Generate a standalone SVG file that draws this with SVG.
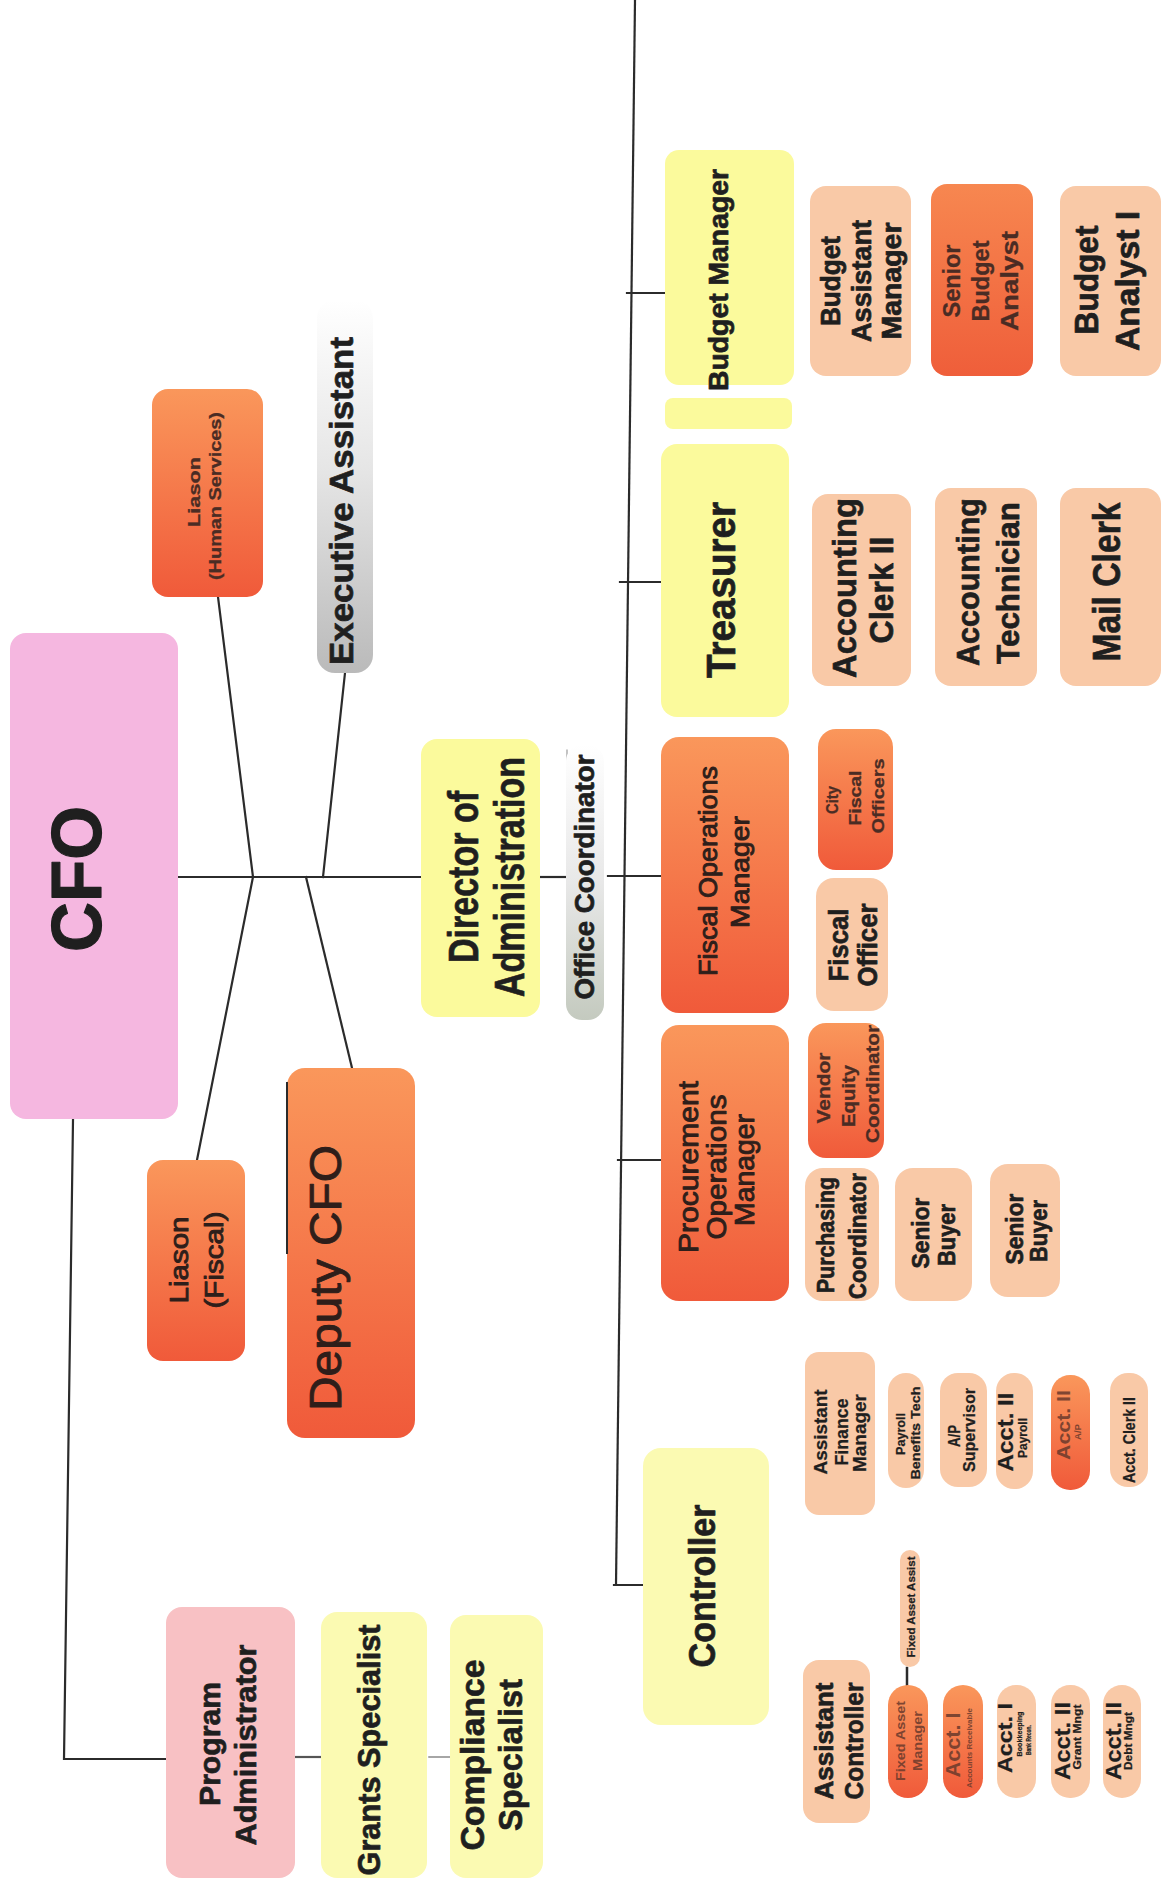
<svg xmlns="http://www.w3.org/2000/svg" width="1164" height="1880" viewBox="0 0 1164 1880">
<defs>
<linearGradient id="gOr" x1="0" y1="0" x2="0" y2="1"><stop offset="0" stop-color="#fa975b"/><stop offset="1" stop-color="#f05a3a"/></linearGradient>
<linearGradient id="gOr2" x1="0" y1="0" x2="0" y2="1"><stop offset="0" stop-color="#f78750"/><stop offset="1" stop-color="#ef5e3a"/></linearGradient>
<linearGradient id="gGray" x1="0" y1="0" x2="0" y2="1"><stop offset="0" stop-color="#ffffff"/><stop offset="0.45" stop-color="#e6e6e6"/><stop offset="1" stop-color="#bababa"/></linearGradient>
<linearGradient id="gGray2" x1="0" y1="0" x2="0" y2="1"><stop offset="0" stop-color="#ffffff"/><stop offset="0.5" stop-color="#e8e8e8"/><stop offset="1" stop-color="#c4cabf"/></linearGradient>
</defs>
<style>
text{font-family:"Liberation Sans",Arial,Helvetica,sans-serif;text-anchor:middle;fill:#1f1f1f;font-weight:bold;stroke:#1f1f1f;stroke-width:.7;stroke-linejoin:round}
.sm{stroke-width:.25}
.md{font-weight:normal;stroke:#2e1e1a;stroke-width:.9;fill:#2e1e1a}
.fd{fill:#4a2c24;stroke:#4a2c24;stroke-width:.3}
.fx{fill:#6a3a2c;stroke:none;opacity:.85}
.yel{fill:#fbfa9c}
.yl2{fill:#fbfab2}
.pch{fill:#f9c9a7}
.org{fill:url(#gOr)}
.conn line,.conn polyline{stroke:#2b2b2b;stroke-width:2.2;fill:none;stroke-linecap:square}
</style>
<rect width="1164" height="1880" fill="#ffffff"/>

<g class="conn" id="connectors">
<line x1="635" y1="0" x2="616" y2="1585"/>
<line x1="627" y1="293" x2="665" y2="293"/>
<line x1="620" y1="582" x2="661" y2="582"/>
<line x1="608" y1="876" x2="661" y2="876"/>
<line x1="618" y1="1160" x2="661" y2="1160"/>
<line x1="614" y1="1585" x2="643" y2="1585"/>
<line x1="176" y1="877" x2="421" y2="877"/>
<polyline points="218,597 253,877 197,1160"/>
<line x1="345" y1="673" x2="323" y2="877"/>
<line x1="306" y1="877" x2="352" y2="1068"/>
<line x1="540" y1="877" x2="566" y2="877"/>
<line x1="567" y1="750" x2="567" y2="820" style="stroke:#9a9a9a;stroke-width:1.2"/>
<polyline points="73,1120 64,1759 168,1759"/>
<line x1="295" y1="1757" x2="322" y2="1757" style="stroke:#555"/>
<line x1="429" y1="1757" x2="451" y2="1757" style="stroke:#888;stroke-width:1.5"/>
<line x1="907" y1="1668" x2="907" y2="1686" style="stroke-width:2.5"/>
</g>

<g id="n-cfo"><rect x="10" y="633" width="168" height="486" rx="16" fill="#f5b7e0"/>
<text transform="translate(101,879) rotate(-90)" font-size="70" textLength="146" lengthAdjust="spacingAndGlyphs" style="stroke-width:1.2">CFO</text></g>

<g id="n-liason-hs"><rect x="152" y="389" width="111" height="208" rx="16" class="org"/>
<text class="fd" transform="translate(200,492) rotate(-90)" font-size="17" textLength="70" lengthAdjust="spacingAndGlyphs">Liason</text>
<text class="fd" transform="translate(221,496) rotate(-90)" font-size="17" textLength="168" lengthAdjust="spacingAndGlyphs">(Human Services)</text></g>

<g id="n-exec"><rect x="317" y="300" width="56" height="373" rx="18" fill="url(#gGray)"/>
<text transform="translate(353,501) rotate(-90)" font-size="33" textLength="328" lengthAdjust="spacingAndGlyphs">Executive Assistant</text></g>

<g id="n-director"><rect x="421" y="739" width="119" height="278" rx="16" class="yel"/>
<text transform="translate(478,877) rotate(-90)" font-size="42" textLength="172" lengthAdjust="spacingAndGlyphs">Director of</text>
<text transform="translate(524,877) rotate(-90)" font-size="42" textLength="240" lengthAdjust="spacingAndGlyphs">Administration</text></g>

<g id="n-office"><rect x="566" y="745" width="38" height="275" rx="16" fill="url(#gGray2)"/>
<text transform="translate(594,877) rotate(-90)" font-size="28" textLength="245" lengthAdjust="spacingAndGlyphs">Office Coordinator</text></g>

<g id="n-budget-mgr"><rect x="665" y="150" width="129" height="235" rx="14" class="yel"/>
<rect x="665" y="398" width="127" height="31" rx="8" class="yel"/>
<text transform="translate(728,280) rotate(-90)" font-size="28" textLength="222" lengthAdjust="spacingAndGlyphs">Budget Manager</text></g>

<g id="n-treasurer"><rect x="661" y="444" width="128" height="273" rx="16" class="yel"/>
<text transform="translate(735,590) rotate(-90)" font-size="40" textLength="176" lengthAdjust="spacingAndGlyphs">Treasurer</text></g>

<g id="n-budget-asst"><rect x="810" y="186" width="101" height="190" rx="16" class="pch"/>
<text transform="translate(840,281) rotate(-90)" font-size="27" textLength="90" lengthAdjust="spacingAndGlyphs">Budget</text>
<text transform="translate(871,281) rotate(-90)" font-size="27" textLength="122" lengthAdjust="spacingAndGlyphs">Assistant</text>
<text transform="translate(901,281) rotate(-90)" font-size="27" textLength="117" lengthAdjust="spacingAndGlyphs">Manager</text></g>

<g id="n-senior-budget"><rect x="931" y="184" width="102" height="192" rx="16" fill="url(#gOr2)"/>
<text class="fd" transform="translate(960,281) rotate(-90)" font-size="24" textLength="73" lengthAdjust="spacingAndGlyphs">Senior</text>
<text class="fd" transform="translate(989,281) rotate(-90)" font-size="24" textLength="81" lengthAdjust="spacingAndGlyphs">Budget</text>
<text class="fd" transform="translate(1018,281) rotate(-90)" font-size="24" textLength="100" lengthAdjust="spacingAndGlyphs">Analyst</text></g>

<g id="n-budget-analyst"><rect x="1060" y="186" width="101" height="190" rx="16" class="pch"/>
<text transform="translate(1098,280) rotate(-90)" font-size="33" textLength="109" lengthAdjust="spacingAndGlyphs">Budget</text>
<text transform="translate(1139,281) rotate(-90)" font-size="33" textLength="140" lengthAdjust="spacingAndGlyphs">Analyst I</text></g>

<g id="n-acct-clerk"><rect x="812" y="494" width="99" height="192" rx="16" class="pch"/>
<text transform="translate(856,588) rotate(-90)" font-size="33" textLength="180" lengthAdjust="spacingAndGlyphs">Accounting</text>
<text transform="translate(893,590) rotate(-90)" font-size="33" textLength="107" lengthAdjust="spacingAndGlyphs">Clerk II</text></g>

<g id="n-acct-tech"><rect x="935" y="488" width="102" height="198" rx="16" class="pch"/>
<text transform="translate(979,582) rotate(-90)" font-size="31" textLength="168" lengthAdjust="spacingAndGlyphs">Accounting</text>
<text transform="translate(1019,583) rotate(-90)" font-size="31" textLength="162" lengthAdjust="spacingAndGlyphs">Technician</text></g>

<g id="n-mail"><rect x="1060" y="488" width="101" height="198" rx="16" class="pch"/>
<text transform="translate(1120,582) rotate(-90)" font-size="38" textLength="159" lengthAdjust="spacingAndGlyphs">Mail Clerk</text></g>

<g id="n-fiscal-ops"><rect x="661" y="737" width="128" height="276" rx="18" class="org"/>
<text class="md" transform="translate(717,871) rotate(-90)" font-size="26" textLength="210" lengthAdjust="spacingAndGlyphs">Fiscal Operations</text>
<text class="md" transform="translate(749,872) rotate(-90)" font-size="26" textLength="112" lengthAdjust="spacingAndGlyphs">Manager</text></g>

<g id="n-city-fiscal"><rect x="818" y="729" width="75" height="141" rx="18" class="org"/>
<text class="fd" transform="translate(838,800) rotate(-90)" font-size="16" textLength="28" lengthAdjust="spacingAndGlyphs">City</text>
<text class="fd" transform="translate(861,798) rotate(-90)" font-size="16" textLength="55" lengthAdjust="spacingAndGlyphs">Fiscal</text>
<text class="fd" transform="translate(884,796) rotate(-90)" font-size="16" textLength="75" lengthAdjust="spacingAndGlyphs">Officers</text></g>

<g id="n-fiscal-officer"><rect x="816" y="878" width="72" height="133" rx="18" class="pch"/>
<text transform="translate(848,945) rotate(-90)" font-size="27" textLength="73" lengthAdjust="spacingAndGlyphs">Fiscal</text>
<text transform="translate(877,945) rotate(-90)" font-size="27" textLength="83" lengthAdjust="spacingAndGlyphs">Officer</text></g>

<g id="n-procurement"><rect x="661" y="1025" width="128" height="276" rx="18" class="org"/>
<text class="md" transform="translate(698,1167) rotate(-90)" font-size="28" textLength="172" lengthAdjust="spacingAndGlyphs">Procurement</text>
<text class="md" transform="translate(726,1167) rotate(-90)" font-size="28" textLength="145" lengthAdjust="spacingAndGlyphs">Operations</text>
<text class="md" transform="translate(754,1170) rotate(-90)" font-size="28" textLength="112" lengthAdjust="spacingAndGlyphs">Manager</text></g>

<g id="n-vendor"><rect x="808" y="1023" width="76" height="135" rx="18" class="org"/>
<text class="fd" transform="translate(830,1088) rotate(-90)" font-size="18" textLength="71" lengthAdjust="spacingAndGlyphs">Vendor</text>
<text class="fd" transform="translate(855,1096) rotate(-90)" font-size="18" textLength="62" lengthAdjust="spacingAndGlyphs">Equity</text>
<text class="fd" transform="translate(879,1084) rotate(-90)" font-size="18" textLength="118" lengthAdjust="spacingAndGlyphs">Coordinator</text></g>

<g id="n-purchasing"><rect x="805" y="1168" width="74" height="133" rx="18" class="pch"/>
<text transform="translate(834,1235) rotate(-90)" font-size="23" textLength="116" lengthAdjust="spacingAndGlyphs">Purchasing</text>
<text transform="translate(866,1236) rotate(-90)" font-size="23" textLength="126" lengthAdjust="spacingAndGlyphs">Coordinator</text></g>

<g id="n-senior-buyer-1"><rect x="895" y="1168" width="77" height="133" rx="18" class="pch"/>
<text transform="translate(929,1233) rotate(-90)" font-size="24" textLength="71" lengthAdjust="spacingAndGlyphs">Senior</text>
<text transform="translate(955,1235) rotate(-90)" font-size="24" textLength="62" lengthAdjust="spacingAndGlyphs">Buyer</text></g>

<g id="n-senior-buyer-2"><rect x="990" y="1164" width="70" height="133" rx="18" class="pch"/>
<text transform="translate(1023,1229) rotate(-90)" font-size="24" textLength="71" lengthAdjust="spacingAndGlyphs">Senior</text>
<text transform="translate(1047,1231) rotate(-90)" font-size="24" textLength="62" lengthAdjust="spacingAndGlyphs">Buyer</text></g>

<g id="n-controller"><rect x="643" y="1448" width="126" height="277" rx="18" class="yl2"/>
<text transform="translate(715,1586) rotate(-90)" font-size="37" textLength="163" lengthAdjust="spacingAndGlyphs">Controller</text></g>

<g id="n-asst-finance"><rect x="805" y="1352" width="70" height="163" rx="14" class="pch"/>
<text class="sm" transform="translate(827,1432) rotate(-90)" font-size="19" textLength="85" lengthAdjust="spacingAndGlyphs">Assistant</text>
<text class="sm" transform="translate(848,1432) rotate(-90)" font-size="19" textLength="67" lengthAdjust="spacingAndGlyphs">Finance</text>
<text class="sm" transform="translate(866,1433) rotate(-90)" font-size="19" textLength="78" lengthAdjust="spacingAndGlyphs">Manager</text></g>

<g id="n-payroll-tech"><rect x="888" y="1373" width="36" height="115" rx="18" class="pch"/>
<text class="sm" transform="translate(905,1434) rotate(-90)" font-size="13" textLength="42" lengthAdjust="spacingAndGlyphs">Payroll</text>
<text class="sm" transform="translate(920,1433) rotate(-90)" font-size="13" textLength="93" lengthAdjust="spacingAndGlyphs">Benefits Tech</text></g>

<g id="n-ap-supervisor"><rect x="940" y="1373" width="47" height="114" rx="18" class="pch"/>
<text class="sm" transform="translate(960,1436) rotate(-90)" font-size="16" textLength="22" lengthAdjust="spacingAndGlyphs">A/P</text>
<text class="sm" transform="translate(975,1430) rotate(-90)" font-size="16" textLength="84" lengthAdjust="spacingAndGlyphs">Supervisor</text></g>

<g id="n-acct2-payroll"><rect x="996" y="1373" width="37" height="116" rx="18" class="pch"/>
<text class="sm" transform="translate(1013,1432) rotate(-90)" font-size="22" textLength="79" lengthAdjust="spacingAndGlyphs">Acct. II</text>
<text class="sm" transform="translate(1027,1438) rotate(-90)" font-size="13" textLength="40" lengthAdjust="spacingAndGlyphs">Payroll</text></g>

<g id="n-acct2-ap"><rect x="1051" y="1375" width="39" height="115" rx="19" class="org"/>
<text class="fx" transform="translate(1070,1425) rotate(-90)" font-size="19" textLength="70" lengthAdjust="spacingAndGlyphs">Acct. II</text>
<text class="fx" transform="translate(1081,1432) rotate(-90)" font-size="9" textLength="16" lengthAdjust="spacingAndGlyphs">A/P</text></g>

<g id="n-acct-clerk2"><rect x="1110" y="1373" width="38" height="114" rx="18" class="pch"/>
<text class="sm" transform="translate(1135,1440) rotate(-90)" font-size="16" textLength="86" lengthAdjust="spacingAndGlyphs">Acct. Clerk II</text></g>

<g id="n-fixed-assist"><rect x="900" y="1550" width="20" height="117" rx="10" class="pch"/>
<text class="sm" transform="translate(915,1607) rotate(-90)" font-size="11" textLength="101" lengthAdjust="spacingAndGlyphs">Fixed Asset Assist</text></g>

<g id="n-asst-controller"><rect x="803" y="1660" width="67" height="163" rx="16" class="pch"/>
<text transform="translate(833,1741) rotate(-90)" font-size="26" textLength="117" lengthAdjust="spacingAndGlyphs">Assistant</text>
<text transform="translate(863,1741) rotate(-90)" font-size="26" textLength="117" lengthAdjust="spacingAndGlyphs">Controller</text></g>

<g id="n-fixed-mgr"><rect x="888" y="1685" width="40" height="113" rx="20" class="org"/>
<text class="fx" transform="translate(905,1741) rotate(-90)" font-size="12" textLength="80" lengthAdjust="spacingAndGlyphs">Fixed Asset</text>
<text class="fx" transform="translate(922,1741) rotate(-90)" font-size="12" textLength="60" lengthAdjust="spacingAndGlyphs">Manager</text></g>

<g id="n-acct1-a"><rect x="943" y="1685" width="40" height="113" rx="20" class="org"/>
<text class="fx" transform="translate(960,1745) rotate(-90)" font-size="20" textLength="65" lengthAdjust="spacingAndGlyphs">Acct. I</text>
<text class="fx" transform="translate(972,1748) rotate(-90)" font-size="7" textLength="80" lengthAdjust="spacingAndGlyphs">Accounts Receivable</text></g>

<g id="n-acct1-b"><rect x="997" y="1685" width="39" height="113" rx="19" class="pch"/>
<text class="sm" transform="translate(1012,1738) rotate(-90)" font-size="21" textLength="70" lengthAdjust="spacingAndGlyphs">Acct. I</text>
<text class="sm" transform="translate(1022,1734) rotate(-90)" font-size="8" textLength="45" lengthAdjust="spacingAndGlyphs">Bookkeeping</text>
<text class="sm" transform="translate(1031,1740) rotate(-90)" font-size="7" textLength="30" lengthAdjust="spacingAndGlyphs">Bank Recon.</text></g>

<g id="n-acct2-grant"><rect x="1051" y="1685" width="39" height="113" rx="19" class="pch"/>
<text class="sm" transform="translate(1070,1741) rotate(-90)" font-size="22" textLength="78" lengthAdjust="spacingAndGlyphs">Acct. II</text>
<text class="sm" transform="translate(1081,1737) rotate(-90)" font-size="11" textLength="65" lengthAdjust="spacingAndGlyphs">Grant Mngt</text></g>

<g id="n-acct2-debt"><rect x="1103" y="1685" width="38" height="113" rx="19" class="pch"/>
<text class="sm" transform="translate(1121,1741) rotate(-90)" font-size="22" textLength="78" lengthAdjust="spacingAndGlyphs">Acct. II</text>
<text class="sm" transform="translate(1132,1741) rotate(-90)" font-size="10" textLength="58" lengthAdjust="spacingAndGlyphs">Debt Mngt</text></g>

<g id="n-liason-fiscal"><rect x="147" y="1160" width="98" height="201" rx="16" class="org"/>
<text class="md" transform="translate(188,1260) rotate(-90)" font-size="26" textLength="87" lengthAdjust="spacingAndGlyphs">Liason</text>
<text class="md" transform="translate(223,1260) rotate(-90)" font-size="26" textLength="97" lengthAdjust="spacingAndGlyphs">(Fiscal)</text></g>

<g id="n-deputy"><rect x="287" y="1068" width="128" height="370" rx="18" class="org"/>
<line x1="287" y1="1082" x2="287" y2="1254" stroke="#2b2b2b" stroke-width="2"/>
<text class="md" transform="translate(341,1278) rotate(-90)" font-size="44" textLength="266" lengthAdjust="spacingAndGlyphs">Deputy CFO</text></g>

<g id="n-program"><rect x="166" y="1607" width="129" height="271" rx="16" fill="#f8c1c4"/>
<text transform="translate(220,1744) rotate(-90)" font-size="30" textLength="124" lengthAdjust="spacingAndGlyphs">Program</text>
<text transform="translate(256,1745) rotate(-90)" font-size="30" textLength="201" lengthAdjust="spacingAndGlyphs">Administrator</text></g>

<g id="n-grants"><rect x="321" y="1612" width="106" height="266" rx="16" class="yl2"/>
<text transform="translate(380,1750) rotate(-90)" font-size="31" textLength="251" lengthAdjust="spacingAndGlyphs">Grants Specialist</text></g>

<g id="n-compliance"><rect x="450" y="1615" width="93" height="263" rx="16" class="yl2"/>
<text transform="translate(484,1755) rotate(-90)" font-size="33" textLength="191" lengthAdjust="spacingAndGlyphs">Compliance</text>
<text transform="translate(522,1755) rotate(-90)" font-size="33" textLength="152" lengthAdjust="spacingAndGlyphs">Specialist</text></g>
</svg>
